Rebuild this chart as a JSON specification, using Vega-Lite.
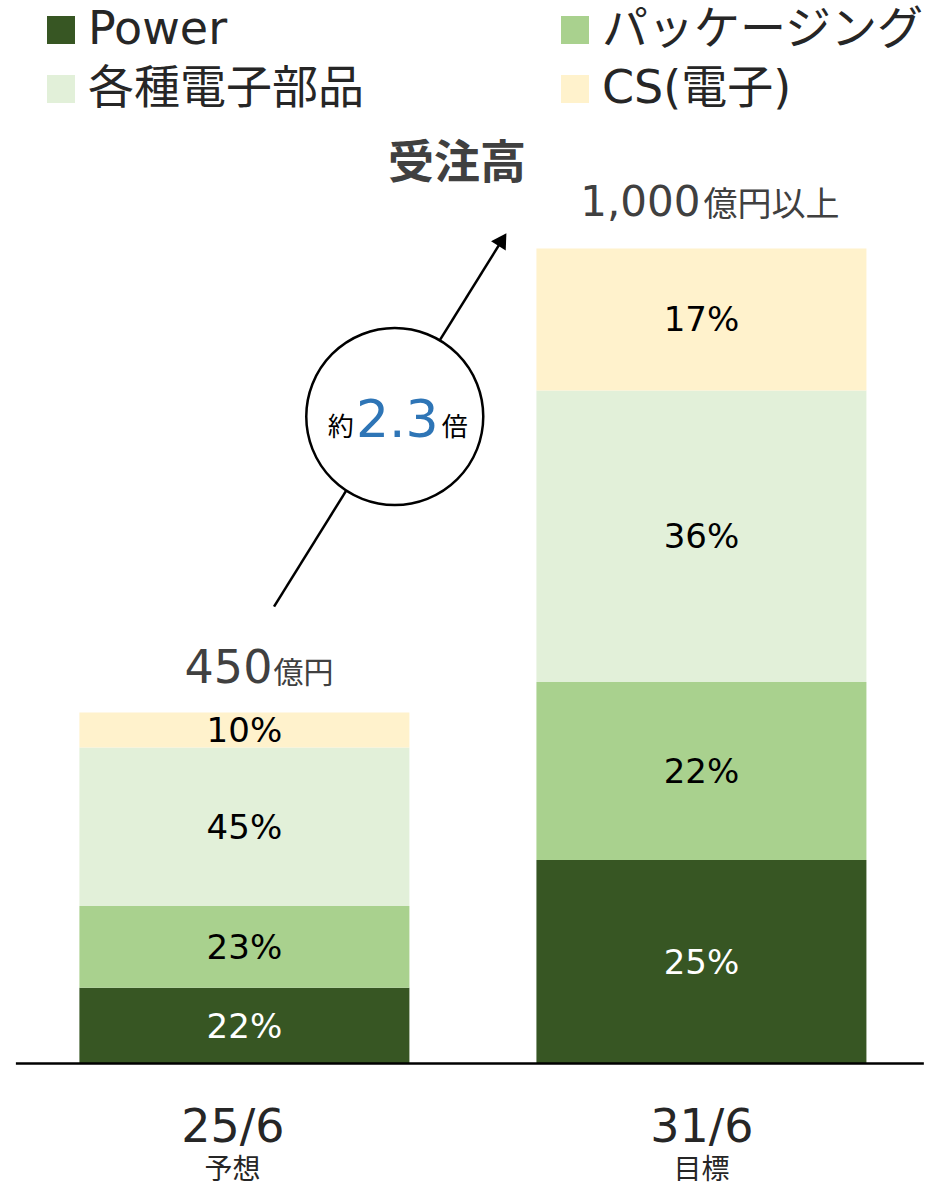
{
  "$schema": "https://vega.github.io/schema/vega-lite/v6.json",
  "width": 929,
  "height": 1186,
  "autosize": {"type": "none"},
  "padding": 0,
  "background": "white",
  "config": {"view": {"stroke": null}, "text": {"font": "DejaVu Sans, Noto Sans CJK JP"}},
  "datasets": {
    "segments": [
      {"fy": 2025, "segment": "Power", "seq": 1, "value": 97, "pct": "22%"},
      {"fy": 2025, "segment": "パッケージング", "seq": 2, "value": 105, "pct": "23%"},
      {"fy": 2025, "segment": "各種電子部品", "seq": 3, "value": 203, "pct": "45%"},
      {"fy": 2025, "segment": "CS(電子)", "seq": 4, "value": 45, "pct": "10%"},
      {"fy": 2031, "segment": "Power", "seq": 1, "value": 261, "pct": "25%"},
      {"fy": 2031, "segment": "パッケージング", "seq": 2, "value": 228, "pct": "22%"},
      {"fy": 2031, "segment": "各種電子部品", "seq": 3, "value": 374, "pct": "36%"},
      {"fy": 2031, "segment": "CS(電子)", "seq": 4, "value": 182, "pct": "17%"}
    ],
    "totals": [
      {"fy": 2025, "total": 450, "num": "450", "unit": "億円", "period": "25/6", "sub": "予想"},
      {"fy": 2031, "total": 1045, "num": "1,000", "unit": "億円以上", "period": "31/6", "sub": "目標"}
    ]
  },
  "layer": [
    {
      "data": {"name": "segments"},
      "transform": [{"stack": "value", "groupby": ["fy"], "sort": [{"field": "seq", "order": "ascending"}], "as": ["v0", "v1"]}],
      "mark": {"type": "bar", "width": 330},
      "encoding": {
        "x": {"field": "fy", "type": "quantitative", "scale": {"domain": [2021.857, 2033.922], "nice": false, "zero": false}, "axis": null},
        "y": {"field": "v0", "type": "quantitative", "scale": {"domain": [-157.05, 1363.5], "nice": false, "zero": false}, "axis": null},
        "y2": {"field": "v1"},
        "color": {
          "field": "segment", "type": "nominal",
          "scale": {"domain": ["Power", "パッケージング", "各種電子部品", "CS(電子)"], "range": ["#375623", "#A9D18E", "#E2F0D9", "#FFF2CC"]},
          "legend": {"orient": "none", "legendX": 38, "legendY": 7, "direction": "horizontal", "columns": 2, "title": null, "symbolType": "square", "symbolSize": 784, "symbolStrokeWidth": 0, "labelFontSize": 46, "labelFont": "DejaVu Sans, Noto Sans CJK JP", "labelColor": "#262626", "labelOffset": 4, "columnPadding": 188, "rowPadding": 13, "labelLimit": 0, "padding": 0}
        }
      }
    },
    {
      "data": {"name": "segments"},
      "transform": [
        {"stack": "value", "groupby": ["fy"], "sort": [{"field": "seq", "order": "ascending"}], "as": ["v0", "v1"]},
        {"fold": ["v0", "v1"], "as": ["edge", "pos"]},
        {"aggregate": [{"op": "mean", "field": "pos", "as": "mid"}], "groupby": ["fy", "segment", "pct"]}
      ],
      "mark": {"type": "text", "fontSize": 34, "baseline": "middle", "align": "center", "dy": 2},
      "encoding": {
        "x": {"field": "fy", "type": "quantitative", "scale": {"domain": [2021.857, 2033.922], "nice": false, "zero": false}, "axis": null},
        "y": {"field": "mid", "type": "quantitative", "scale": {"domain": [-157.05, 1363.5], "nice": false, "zero": false}, "axis": null},
        "text": {"field": "pct"},
        "color": {"condition": {"test": "datum.segment === 'Power'", "value": "#FFFFFF"}, "value": "#000000"}
      }
    },
    {
      "data": {"values": [{}]},
      "mark": {"type": "rule", "color": "#000000", "strokeWidth": 2.5},
      "encoding": {
        "x": {"datum": 2022, "type": "quantitative", "scale": {"domain": [2021.857, 2033.922], "nice": false, "zero": false}, "axis": null},
        "x2": {"datum": 2033.92},
        "y": {"datum": 0, "type": "quantitative", "scale": {"domain": [-157.05, 1363.5], "nice": false, "zero": false}, "axis": null}
      }
    },
    {
      "data": {"values": [{}]},
      "mark": {"type": "rule", "color": "#000000", "strokeWidth": 2.5},
      "encoding": {
        "x": {"datum": 2025.389, "type": "quantitative", "scale": {"domain": [2021.857, 2033.922], "nice": false, "zero": false}, "axis": null},
        "x2": {"datum": 2028.387},
        "y": {"datum": 585.7, "type": "quantitative", "scale": {"domain": [-157.05, 1363.5], "nice": false, "zero": false}, "axis": null},
        "y2": {"datum": 1056.3}
      }
    },
    {
      "data": {"values": [{}]},
      "mark": {"type": "point", "shape": "triangle-up", "angle": 32.2, "size": 300, "filled": true, "color": "#000000", "opacity": 1},
      "encoding": {
        "x": {"datum": 2028.387, "type": "quantitative", "scale": {"domain": [2021.857, 2033.922], "nice": false, "zero": false}, "axis": null},
        "y": {"datum": 1056.3, "type": "quantitative", "scale": {"domain": [-157.05, 1363.5], "nice": false, "zero": false}, "axis": null}
      }
    },
    {
      "data": {"values": [{}]},
      "mark": {"type": "point", "shape": "circle", "size": 31329, "filled": true, "fill": "#FFFFFF", "stroke": "#000000", "strokeWidth": 2.5, "opacity": 1, "fillOpacity": 1},
      "encoding": {
        "x": {"datum": 2026.974, "type": "quantitative", "scale": {"domain": [2021.857, 2033.922], "nice": false, "zero": false}, "axis": null},
        "y": {"datum": 829.5, "type": "quantitative", "scale": {"domain": [-157.05, 1363.5], "nice": false, "zero": false}, "axis": null}
      }
    },
    {
      "data": {"values": [{}]},
      "mark": {"type": "text", "text": "約", "fontSize": 26, "color": "#000000", "align": "right", "baseline": "alphabetic", "dx": -41, "dy": 19},
      "encoding": {
        "x": {"datum": 2026.974, "type": "quantitative", "scale": {"domain": [2021.857, 2033.922], "nice": false, "zero": false}, "axis": null},
        "y": {"datum": 829.5, "type": "quantitative", "scale": {"domain": [-157.05, 1363.5], "nice": false, "zero": false}, "axis": null}
      }
    },
    {
      "data": {"values": [{}]},
      "mark": {"type": "text", "text": "2.3", "fontSize": 52, "color": "#2E75B6", "align": "center", "baseline": "alphabetic", "dx": 2.5, "dy": 20},
      "encoding": {
        "x": {"datum": 2026.974, "type": "quantitative", "scale": {"domain": [2021.857, 2033.922], "nice": false, "zero": false}, "axis": null},
        "y": {"datum": 829.5, "type": "quantitative", "scale": {"domain": [-157.05, 1363.5], "nice": false, "zero": false}, "axis": null}
      }
    },
    {
      "data": {"values": [{}]},
      "mark": {"type": "text", "text": "倍", "fontSize": 26, "color": "#000000", "align": "left", "baseline": "alphabetic", "dx": 47, "dy": 19},
      "encoding": {
        "x": {"datum": 2026.974, "type": "quantitative", "scale": {"domain": [2021.857, 2033.922], "nice": false, "zero": false}, "axis": null},
        "y": {"datum": 829.5, "type": "quantitative", "scale": {"domain": [-157.05, 1363.5], "nice": false, "zero": false}, "axis": null}
      }
    },
    {
      "data": {"values": [{}]},
      "mark": {"type": "text", "text": "受注高", "fontSize": 46, "fontWeight": "bold", "font": "Noto Sans CJK JP", "color": "#404040", "align": "center", "baseline": "middle"},
      "encoding": {
        "x": {"datum": 2027.792, "type": "quantitative", "scale": {"domain": [2021.857, 2033.922], "nice": false, "zero": false}, "axis": null},
        "y": {"datum": 1153.2, "type": "quantitative", "scale": {"domain": [-157.05, 1363.5], "nice": false, "zero": false}, "axis": null}
      }
    },
    {
      "data": {"name": "totals"},
      "transform": [{"filter": "datum.fy === 2025"}],
      "mark": {"type": "text", "fontSize": 46, "color": "#404040", "align": "right", "baseline": "alphabetic", "dx": 28, "dy": -30},
      "encoding": {
        "x": {"field": "fy", "type": "quantitative", "scale": {"domain": [2021.857, 2033.922], "nice": false, "zero": false}, "axis": null},
        "y": {"field": "total", "type": "quantitative", "scale": {"domain": [-157.05, 1363.5], "nice": false, "zero": false}, "axis": null},
        "text": {"field": "num"}
      }
    },
    {
      "data": {"name": "totals"},
      "transform": [{"filter": "datum.fy === 2025"}],
      "mark": {"type": "text", "fontSize": 30, "color": "#404040", "align": "left", "baseline": "alphabetic", "dx": 29, "dy": -30},
      "encoding": {
        "x": {"field": "fy", "type": "quantitative", "scale": {"domain": [2021.857, 2033.922], "nice": false, "zero": false}, "axis": null},
        "y": {"field": "total", "type": "quantitative", "scale": {"domain": [-157.05, 1363.5], "nice": false, "zero": false}, "axis": null},
        "text": {"field": "unit"}
      }
    },
    {
      "data": {"name": "totals"},
      "transform": [{"filter": "datum.fy === 2031"}],
      "mark": {"type": "text", "fontSize": 42, "color": "#404040", "align": "right", "baseline": "alphabetic", "dx": -1, "dy": -32},
      "encoding": {
        "x": {"field": "fy", "type": "quantitative", "scale": {"domain": [2021.857, 2033.922], "nice": false, "zero": false}, "axis": null},
        "y": {"field": "total", "type": "quantitative", "scale": {"domain": [-157.05, 1363.5], "nice": false, "zero": false}, "axis": null},
        "text": {"field": "num"}
      }
    },
    {
      "data": {"name": "totals"},
      "transform": [{"filter": "datum.fy === 2031"}],
      "mark": {"type": "text", "fontSize": 34, "color": "#404040", "align": "left", "baseline": "alphabetic", "dx": 2, "dy": -32},
      "encoding": {
        "x": {"field": "fy", "type": "quantitative", "scale": {"domain": [2021.857, 2033.922], "nice": false, "zero": false}, "axis": null},
        "y": {"field": "total", "type": "quantitative", "scale": {"domain": [-157.05, 1363.5], "nice": false, "zero": false}, "axis": null},
        "text": {"field": "unit"}
      }
    },
    {
      "data": {"name": "totals"},
      "transform": [{"filter": "datum.fy === 2025"}],
      "mark": {"type": "text", "fontSize": 46, "color": "#262626", "align": "center", "baseline": "alphabetic", "dx": -11.5, "dy": 78.5},
      "encoding": {
        "x": {"field": "fy", "type": "quantitative", "scale": {"domain": [2021.857, 2033.922], "nice": false, "zero": false}, "axis": null},
        "y": {"datum": 0, "type": "quantitative", "scale": {"domain": [-157.05, 1363.5], "nice": false, "zero": false}, "axis": null},
        "text": {"field": "period"}
      }
    },
    {
      "data": {"name": "totals"},
      "transform": [{"filter": "datum.fy === 2025"}],
      "mark": {"type": "text", "fontSize": 28, "color": "#262626", "align": "center", "baseline": "middle", "dx": -12, "dy": 107.5},
      "encoding": {
        "x": {"field": "fy", "type": "quantitative", "scale": {"domain": [2021.857, 2033.922], "nice": false, "zero": false}, "axis": null},
        "y": {"datum": 0, "type": "quantitative", "scale": {"domain": [-157.05, 1363.5], "nice": false, "zero": false}, "axis": null},
        "text": {"field": "sub"}
      }
    },
    {
      "data": {"name": "totals"},
      "transform": [{"filter": "datum.fy === 2031"}],
      "mark": {"type": "text", "fontSize": 46, "color": "#262626", "align": "center", "baseline": "alphabetic", "dx": 0.5, "dy": 78.5},
      "encoding": {
        "x": {"field": "fy", "type": "quantitative", "scale": {"domain": [2021.857, 2033.922], "nice": false, "zero": false}, "axis": null},
        "y": {"datum": 0, "type": "quantitative", "scale": {"domain": [-157.05, 1363.5], "nice": false, "zero": false}, "axis": null},
        "text": {"field": "period"}
      }
    },
    {
      "data": {"name": "totals"},
      "transform": [{"filter": "datum.fy === 2031"}],
      "mark": {"type": "text", "fontSize": 28, "color": "#262626", "align": "center", "baseline": "middle", "dx": 0, "dy": 107.5},
      "encoding": {
        "x": {"field": "fy", "type": "quantitative", "scale": {"domain": [2021.857, 2033.922], "nice": false, "zero": false}, "axis": null},
        "y": {"datum": 0, "type": "quantitative", "scale": {"domain": [-157.05, 1363.5], "nice": false, "zero": false}, "axis": null},
        "text": {"field": "sub"}
      }
    }
  ]
}
